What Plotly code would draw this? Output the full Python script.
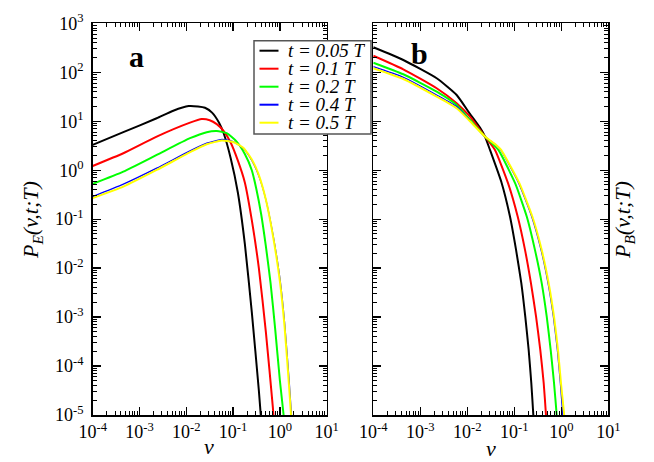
import plotly.graph_objects as go

# ---------------- data ----------------
SERIES_NAMES = ["t = 0.05 T", "t = 0.1 T", "t = 0.2 T", "t = 0.4 T", "t = 0.5 T"]
COLORS = ["#000000", "#ff0000", "#00ff00", "#0000ff", "#ffff00"]
WIDTHS = [2, 2, 2, 1.2, 2]

# Panel a : P_E(v,t;T)
a_v_005 = [1e-4, 4.51e-4, 2.33e-3, 5.27e-3, 1.12e-2, 1.78e-2, 2.51e-2, 3.55e-2, 5.01e-2, 6.31e-2, 8.91e-2, 0.126, 0.178, 0.251, 0.355, 0.417]
a_p_005 = [3.28, 5.97, 11.5, 16.4, 20.4, 20.0, 18.8, 15.0, 9.33, 5.62, 1.74, 0.355, 0.0316, 1.26e-3, 3.16e-5, 4.47e-6]

a_v_01 = [1e-4, 4.51e-4, 2.33e-3, 1.20e-2, 2.13e-2, 3.16e-2, 4.47e-2, 6.31e-2, 8.91e-2, 0.126, 0.178, 0.251, 0.355, 0.501, 0.708, 0.759]
a_p_01 = [1.22, 2.22, 4.85, 9.35, 11.1, 10.5, 8.71, 6.31, 3.63, 1.58, 0.562, 0.0955, 0.0100, 5.01e-4, 1.41e-5, 5.62e-6]

a_v_02 = [1e-4, 4.51e-4, 2.33e-3, 1.20e-2, 2.73e-2, 4.47e-2, 7.29e-2, 0.119, 0.178, 0.251, 0.316, 0.398, 0.501, 0.631, 0.794, 1.00, 1.20, 1.29]
a_p_02 = [0.525, 0.935, 2.05, 4.50, 5.97, 6.31, 5.69, 3.84, 2.14, 1.00, 0.398, 0.126, 0.0282, 5.01e-3, 5.62e-4, 5.01e-5, 1e-5, 4.47e-6]

a_v_04 = [1e-4, 4.51e-4, 2.33e-3, 1.20e-2, 2.73e-2, 5.79e-2, 0.100, 0.165, 0.251, 0.355, 0.501, 0.708, 1.00, 1.26, 1.58, 1.86]
a_p_04 = [0.289, 0.518, 1.10, 2.48, 3.56, 4.26, 3.84, 2.81, 1.58, 0.759, 0.251, 0.0501, 6.31e-3, 7.94e-4, 5.01e-5, 5.01e-6]

a_v_05 = [1e-4, 4.51e-4, 2.33e-3, 1.20e-2, 2.73e-2, 5.70e-2, 0.100, 0.165, 0.251, 0.355, 0.501, 0.708, 1.00, 1.26, 1.58, 1.82]
a_p_05 = [0.269, 0.462, 1.01, 2.33, 3.39, 4.02, 3.76, 2.88, 1.66, 0.794, 0.251, 0.0468, 5.37e-3, 6.31e-4, 3.55e-5, 5.01e-6]

# Panel b : P_B(v,t;T)
b_v_005 = [1e-4, 4.35e-4, 2.23e-3, 5.94e-3, 1.14e-2, 1.86e-2, 2.38e-2, 3.04e-2, 5.40e-2, 8.09e-2, 0.109, 0.141, 0.171, 0.202, 0.230, 0.254, 0.266]
b_p_005 = [324, 178, 75.5, 34.4, 14.1, 7.41, 4.85, 2.59, 0.543, 0.113, 0.0236, 4.94e-3, 1.03e-3, 2.15e-4, 4.50e-5, 1e-5, 5.01e-6]

b_v_01 = [1e-4, 4.35e-4, 2.23e-3, 5.94e-3, 1.14e-2, 2.38e-2, 3.88e-2, 7.35e-2, 0.118, 0.169, 0.226, 0.290, 0.357, 0.422, 0.472, 0.490]
b_p_01 = [218, 115, 47.1, 23.3, 12.4, 4.85, 2.59, 0.543, 0.113, 0.0236, 4.94e-3, 1.03e-3, 2.15e-4, 4.50e-5, 1e-5, 5.01e-6]

b_v_02 = [1e-4, 4.35e-4, 2.23e-3, 5.94e-3, 1.14e-2, 2.38e-2, 4.57e-2, 0.104, 0.184, 0.275, 0.383, 0.489, 0.594, 0.700, 0.798, 0.832]
b_p_02 = [157, 91.0, 40.2, 21.5, 10.7, 4.85, 2.59, 0.543, 0.113, 0.0236, 4.94e-3, 1.03e-3, 2.15e-4, 4.50e-5, 1e-5, 5.01e-6]

b_v_04 = [1e-4, 4.35e-4, 2.23e-3, 5.94e-3, 1.14e-2, 2.38e-2, 4.23e-2, 5.14e-2, 0.124, 0.234, 0.370, 0.521, 0.676, 0.822, 0.953, 1.07, 1.11]
b_p_04 = [130, 79.1, 34.4, 19.9, 10.2, 4.85, 3.16, 2.59, 0.543, 0.113, 0.0236, 4.94e-3, 1.03e-3, 2.15e-4, 4.50e-5, 1e-5, 5.01e-6]

b_v_05 = [1e-4, 4.35e-4, 2.23e-3, 5.94e-3, 1.14e-2, 2.38e-2, 4.23e-2, 5.25e-2, 0.128, 0.242, 0.382, 0.538, 0.698, 0.849, 0.984, 1.15, 1.19]
b_p_05 = [121, 72.9, 31.8, 18.4, 10.0, 4.85, 3.20, 2.59, 0.543, 0.113, 0.0236, 4.94e-3, 1.03e-3, 2.15e-4, 4.50e-5, 1e-5, 5.01e-6]

X_TICKVALS = [1e-4, 1e-3, 1e-2, 1e-1, 1e0, 1e1]
X_TICKTEXT = ["10<sup>-4</sup>", "10<sup>-3</sup>", "10<sup>-2</sup>", "10<sup>-1</sup>", "10<sup>0</sup>", "10<sup>1</sup>"]
Y_TICKVALS = [1e-5, 1e-4, 1e-3, 1e-2, 1e-1, 1e0, 1e1, 1e2, 1e3]
Y_TICKTEXT = ["10<sup>-5</sup>", "10<sup>-4</sup>", "10<sup>-3</sup>", "10<sup>-2</sup>", "10<sup>-1</sup>",
              "10<sup>0</sup>", "10<sup>1</sup>", "10<sup>2</sup>", "10<sup>3</sup>"]
X_MINOR = [m * 10.0 ** d for d in range(-4, 1) for m in range(2, 10)]
Y_MINOR = [m * 10.0 ** d for d in range(-5, 3) for m in range(2, 10)]

PANEL_A = [(a_v_005, a_p_005), (a_v_01, a_p_01), (a_v_02, a_p_02), (a_v_04, a_p_04), (a_v_05, a_p_05)]
PANEL_B = [(b_v_005, b_p_005), (b_v_01, b_p_01), (b_v_02, b_p_02), (b_v_04, b_p_04), (b_v_05, b_p_05)]

# ---------------- figure ----------------
W, H = 654, 462
SERIF = "Liberation Serif"

fig = go.Figure()
for (vx, py), name, col, lw in zip(PANEL_A, SERIES_NAMES, COLORS, WIDTHS):
    fig.add_trace(go.Scatter(x=vx, y=py, mode="lines", name=name, showlegend=False,
                             line=dict(color=col, width=lw, shape="spline", smoothing=0.5),
                             xaxis="x", yaxis="y"))
for (vx, py), name, col, lw in zip(PANEL_B, SERIES_NAMES, COLORS, WIDTHS):
    fig.add_trace(go.Scatter(x=vx, y=py, mode="lines", name=name, showlegend=False,
                             line=dict(color=col, width=lw, shape="spline", smoothing=0.5),
                             xaxis="x2", yaxis="y2"))

def px_x(p):
    return p / W

def px_y(p):
    return 1 - p / H

common = dict(type="log", showline=True, linecolor="black", linewidth=1.5, mirror="ticks",
              ticks="inside", ticklen=8, tickwidth=1.3, tickcolor="black",
              showgrid=False, zeroline=False, automargin=False,
              tickfont=dict(family=SERIF, size=18, color="black"))

xcommon = dict(common, range=[-4, 1], tickmode="array", tickvals=X_TICKVALS, ticktext=X_TICKTEXT,
               minor=dict(ticks="inside", ticklen=4, tickwidth=1, tickcolor="black",
                          tickmode="array", tickvals=X_MINOR, showgrid=False))
ycommon = dict(common, range=[-5, 3], tickmode="array", tickvals=Y_TICKVALS, ticktext=Y_TICKTEXT,
               minor=dict(ticks="inside", ticklen=4, tickwidth=1, tickcolor="black",
                          tickmode="array", tickvals=Y_MINOR, showgrid=False))

ydom = [px_y(415), px_y(23.3)]
fig.update_layout(
    template="none",
    width=W, height=H,
    margin=dict(l=0, r=0, t=0, b=0, pad=0),
    paper_bgcolor="white", plot_bgcolor="white",
    xaxis=dict(xcommon, domain=[px_x(92.7), px_x(326.7)], anchor="y"),
    yaxis=dict(ycommon, domain=ydom, anchor="x", ticklabelstandoff=4),
    xaxis2=dict(xcommon, domain=[px_x(373.3), px_x(608.3)], anchor="y2"),
    yaxis2=dict(ycommon, domain=ydom, anchor="x2", showticklabels=False),
    showlegend=False,
)

annotations = [
    dict(text="<i>P<sub>E</sub>(v,t;T)</i>", x=px_x(32), y=px_y(220), textangle=-90),
    dict(text="<i>P<sub>B</sub>(v,t;T)</i>", x=px_x(624), y=px_y(220), textangle=-90),
    dict(text="<i>v</i>", x=px_x(209), y=px_y(446)),
    dict(text="<i>v</i>", x=px_x(491), y=px_y(448)),
]
out = []
for a in annotations:
    out.append(dict(a, xref="paper", yref="paper", showarrow=False, xanchor="center", yanchor="middle",
                    font=dict(family=SERIF, size=22, color="black")))
out.append(dict(text="<b>a</b>", x=px_x(136), y=px_y(57), xref="paper", yref="paper", showarrow=False,
                xanchor="center", yanchor="middle", font=dict(family=SERIF, size=30, color="black")))
out.append(dict(text="<b>b</b>", x=px_x(419.5), y=px_y(53), xref="paper", yref="paper", showarrow=False,
                xanchor="center", yanchor="middle", font=dict(family=SERIF, size=30, color="black")))

# legend (drawn manually as a box with sample lines and labels)
shapes = [dict(type="rect", xref="paper", yref="paper", x0=px_x(254), x1=px_x(371),
               y0=px_y(134), y1=px_y(40.7), line=dict(color="#555555", width=1.5),
               fillcolor="white", layer="above")]
row0, drow = 50.7, 18.0
for i, (name, col) in enumerate(zip(SERIES_NAMES, COLORS)):
    yy = row0 + drow * i
    shapes.append(dict(type="line", xref="paper", yref="paper", x0=px_x(259.5), x1=px_x(278.5),
                       y0=px_y(yy), y1=px_y(yy), line=dict(color=col, width=2), layer="above"))
    out.append(dict(text="<i>" + name + "</i>", x=px_x(286), y=px_y(yy), xref="paper", yref="paper",
                    showarrow=False, xanchor="left", yanchor="middle", height=17, valign="middle",
                    font=dict(family=SERIF, size=19, color="black")))

fig.update_layout(annotations=out, shapes=shapes)
fig.write_html("out.html", config={"displayModeBar": False, "staticPlot": True},
               post_script="document.body.style.margin='0';document.body.style.overflow='hidden';")
